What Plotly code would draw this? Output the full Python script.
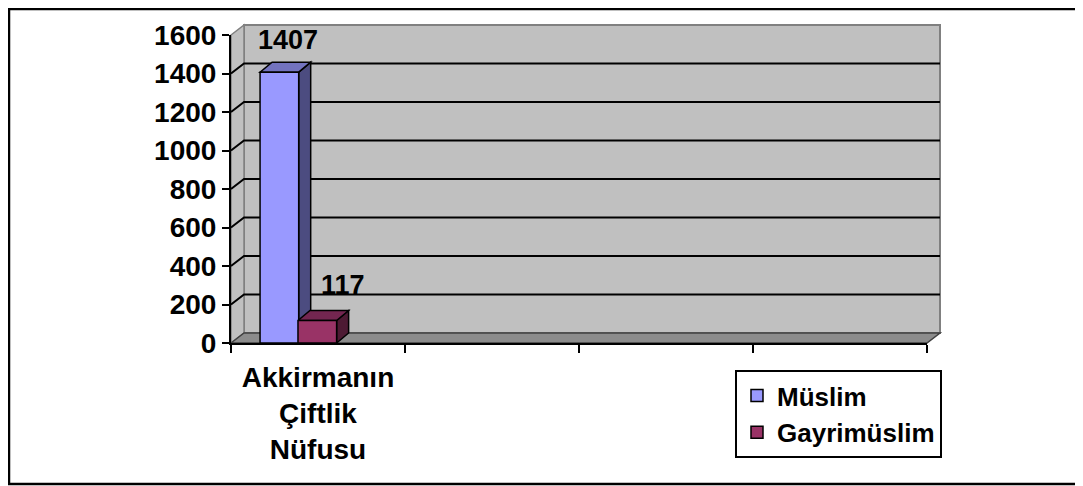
import plotly.graph_objects as go

# data
CATEGORIES = ["Akkirmanın Çiftlik Nüfusu"]
SERIES = ["Müslim", "Gayrimüslim"]
MUSLIM = [1407]
GAYRIMUSLIM = [117]
Y_TICKS = [0, 200, 400, 600, 800, 1000, 1200, 1400, 1600]

# layout, in page pixels (the html body adds an 8px margin)
W, H = 1083, 486
BODY = 8
PL, PR, PT, PB = 231, 927, 35, 343
N_SLOTS = 4
Y_MAX = 1600
WALL_DX, WALL_DY = 13, 10
BAR_DX, BAR_DY = 12, 10
FONT = "Liberation Sans, Arial, sans-serif"

FRONT = ["#9999ff", "#993366"]
SIDE = ["#4c4c80", "#4d1a33"]
TOP = ["#7373bf", "#732650"]
OFFSETS = [-0.333, -0.115]
BAR_W = 0.222
LABEL_SHIFT = [(9, 32), (26, 35)]

px_per_x = (PR - PL) / N_SLOTS
px_per_y = (PB - PT) / Y_MAX


def paper(px, py):
    return (px - PL) / (PR - PL), (PB - py) / (PB - PT)


def poly(points):
    pts = [paper(*p) for p in points]
    return "M " + " L ".join(f"{x:.5f},{y:.5f}" for x, y in pts) + " Z"


fig = go.Figure()
xs = list(range(len(CATEGORIES)))
values = [MUSLIM, GAYRIMUSLIM]
for i, name in enumerate(SERIES):
    fig.add_trace(
        go.Bar(
            x=xs,
            y=values[i],
            name=name,
            width=BAR_W,
            offset=OFFSETS[i],
            marker=dict(color=FRONT[i], line=dict(color="black", width=1.5)),
        )
    )

shapes = []
# outer frame (top edge sits in the body margin, so it lands at the top of the figure)
x0, y0 = paper(BODY + 1, BODY + 1)
x1, y1 = paper(1100, 484)
shapes.append(dict(type="rect", xref="paper", yref="paper", x0=x0, y0=y1, x1=x1, y1=y0,
                   line=dict(color="black", width=2.5), layer="below"))
# back wall, left wall, floor
shapes.append(dict(type="path", xref="paper", yref="paper",
                   path=poly([(PL + WALL_DX, PT - WALL_DY), (PR + WALL_DX, PT - WALL_DY),
                              (PR + WALL_DX, PB - WALL_DY), (PL + WALL_DX, PB - WALL_DY)]),
                   fillcolor="#c0c0c0", line=dict(color="#808080", width=2), layer="below"))
shapes.append(dict(type="path", xref="paper", yref="paper",
                   path=poly([(PL, PT), (PL + WALL_DX, PT - WALL_DY),
                              (PL + WALL_DX, PB - WALL_DY), (PL, PB)]),
                   fillcolor="#c0c0c0", line=dict(color="#808080", width=1.5), layer="below"))
shapes.append(dict(type="path", xref="paper", yref="paper",
                   path=poly([(PL, PB), (PL + WALL_DX, PB - WALL_DY),
                              (PR + WALL_DX, PB - WALL_DY), (PR, PB)]),
                   fillcolor="#8c8c8c", line=dict(color="#404040", width=1.5), layer="below"))
# gridlines on side wall + back wall
dy_data = WALL_DY / px_per_y
gx0 = paper(PL, 0)[0]
gx1 = paper(PL + WALL_DX, 0)[0]
gx2 = paper(PR + WALL_DX, 0)[0]
for v in Y_TICKS[1:-1]:
    shapes.append(dict(type="path", xref="paper", yref="y",
                       path=f"M {gx0:.5f},{v} L {gx1:.5f},{v + dy_data:.4f} L {gx2:.5f},{v + dy_data:.4f}",
                       line=dict(color="black", width=2), layer="below"))

# 3d faces of the bars
bdx = BAR_DX / px_per_x
bdy = BAR_DY / px_per_y
for i in range(len(SERIES)):
    for x, v in zip(xs, values[i]):
        left = x + OFFSETS[i]
        right = left + BAR_W
        shapes.append(dict(type="path", xref="x", yref="y",
                           path=f"M {right},0 L {right + bdx},{bdy} L {right + bdx},{v + bdy} L {right},{v} Z",
                           fillcolor=SIDE[i], line=dict(color="black", width=1.5), layer="below"))
        shapes.append(dict(type="path", xref="x", yref="y",
                           path=f"M {left},{v} L {right},{v} L {right + bdx},{v + bdy} L {left + bdx},{v + bdy} Z",
                           fillcolor=TOP[i], line=dict(color="black", width=1.5), layer="below"))

annotations = []
for i in range(len(SERIES)):
    for x, v in zip(xs, values[i]):
        annotations.append(dict(x=x + OFFSETS[i] + BAR_W / 2, y=v, text=str(v), showarrow=False,
                                xshift=LABEL_SHIFT[i][0], yshift=LABEL_SHIFT[i][1],
                                font=dict(family=FONT, size=27, color="black", weight="bold")))

fig.update_layout(
    width=W,
    height=H,
    margin=dict(l=PL - BODY, r=W - (PR - BODY), t=PT - BODY, b=H - (PB - BODY), autoexpand=False),
    paper_bgcolor="white",
    plot_bgcolor="rgba(0,0,0,0)",
    barmode="overlay",
    shapes=shapes,
    annotations=annotations,
    font=dict(family=FONT, color="black"),
    legend=dict(
        xref="container", yref="container",
        x=(735 - BODY) / W, y=1 - (370 - BODY) / H, xanchor="left", yanchor="top",
        bordercolor="black", borderwidth=2, bgcolor="white",
        font=dict(family=FONT, size=26, color="black", weight="bold"),
        tracegroupgap=0,
    ),
    xaxis=dict(
        range=[-0.5, N_SLOTS - 0.5],
        tickvals=xs,
        ticktext=[c.replace(" ", "<br>") for c in CATEGORIES],
        ticks="outside", ticklen=8, tickcolor="rgba(0,0,0,0)",
        tickfont=dict(family=FONT, size=28, color="black", weight="bold"),
        minor=dict(tickvals=[k - 0.5 for k in range(N_SLOTS + 1)], ticks="outside",
                   ticklen=8, tickwidth=2, tickcolor="black", showgrid=False),
        showline=True, linecolor="black", linewidth=2,
        showgrid=False, zeroline=False, fixedrange=True,
    ),
    yaxis=dict(
        range=[0, Y_MAX],
        tickvals=Y_TICKS,
        ticks="outside", ticklen=7, tickwidth=2, tickcolor="black",
        tickfont=dict(family=FONT, size=28, color="black", weight="bold"),
        showline=True, linecolor="black", linewidth=2,
        showgrid=False, zeroline=False, fixedrange=True,
    ),
)

fig.write_html("out.html")
